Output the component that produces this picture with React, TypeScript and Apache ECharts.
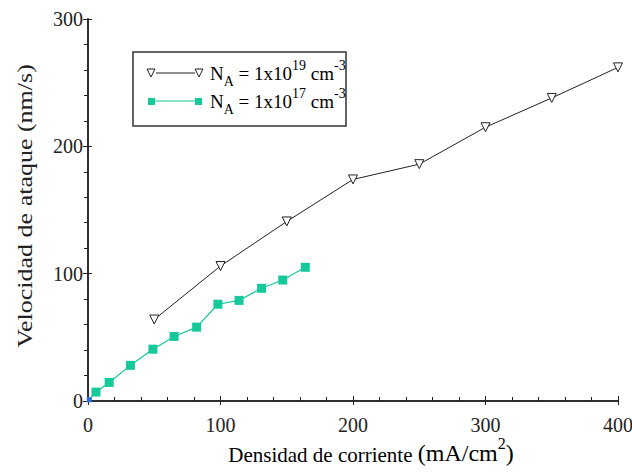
import React, { useEffect, useRef } from "react";
import * as echarts from "echarts";

const xTicks = [0, 100, 200, 300, 400];
const yTicks = [0, 100, 200, 300];

const highDopingX = [50, 100, 150, 200, 250, 300, 350, 400];
const highDopingY = [64, 106, 141, 174, 186, 215, 238, 262];

const lowDopingX = [1, 6, 16, 32, 49, 65, 82, 98, 114, 131, 147, 164];
const lowDopingY = [1, 7, 14.6, 28, 40.7, 50.7, 58, 76, 79, 88.5, 95, 105];

const legendLabels = [
  "{t|N}{sub|A}{t| = 1x10}{sup|19}{t| cm}{sup|-3}",
  "{t|N}{sub|A}{t| = 1x10}{sup|17}{t| cm}{sup|-3}",
];
const xTitle = "{t|Densidad de corriente }{p|(mA/cm}{s|2}{p|)}";
const yTitle = "Velocidad de ataque (nm/s)";

const TEAL = "#16c99a";
const FONT = "'Liberation Serif', 'Times New Roman', serif";

export default function App() {
  const ref = useRef<HTMLDivElement>(null);
  useEffect(() => {
    if (!ref.current) return;
    const chart = echarts.init(ref.current, undefined, { renderer: "svg" });
    const axisLine = { show: true, lineStyle: { color: "#222", width: 1.5 } };
    const richText = {
      t: { fontFamily: FONT, fontSize: 19, color: "#111", lineHeight: 30, verticalAlign: "middle" },
      sub: { fontFamily: FONT, fontSize: 14, color: "#111", lineHeight: 13, verticalAlign: "bottom" },
      sup: { fontFamily: FONT, fontSize: 14, color: "#111", lineHeight: 13, verticalAlign: "top" },
    };
    const tri = "path://M0,0 L10,0 L5,10 Z";
    chart.setOption({
      animation: false,
      backgroundColor: "#fff",
      grid: { left: 88, right: 14, top: 19, bottom: 71, containLabel: false, outerBoundsMode: "none" },
      xAxis: [
        {
          type: "value", min: 0, max: 400, interval: 100, position: "bottom",
          axisLine,
          axisTick: { show: true, inside: true, length: 5, lineStyle: { color: "#222" } },
          minorTick: { show: true, splitNumber: 5, length: 4, lineStyle: { color: "#222" } },
          splitLine: { show: false },
          axisLabel: {
            fontFamily: FONT, fontSize: 20, color: "#222", margin: 14,
            formatter: (v: number) => (xTicks.includes(v) ? String(v) : ""),
          },
        },
        {
          type: "value", min: 0, max: 400, interval: 100, position: "top",
          axisLine,
          axisTick: { show: true, inside: true, length: 4, lineStyle: { color: "#222" } },
          axisLabel: { show: false },
          splitLine: { show: false },
        },
      ],
      yAxis: [
        {
          type: "value", min: 0, max: 300, interval: 100, position: "left",
          axisLine,
          axisTick: { show: true, inside: true, length: 4, lineStyle: { color: "#222" } },
          splitLine: { show: false },
          axisLabel: {
            fontFamily: FONT, fontSize: 20, color: "#222", margin: 5,
            formatter: (v: number) => (yTicks.includes(v) ? String(v) : ""),
          },
        },
        {
          type: "value", min: 0, max: 300, interval: 100, position: "right",
          axisLine,
          axisTick: { show: true, inside: true, length: 5, lineStyle: { color: "#222" } },
          minorTick: { show: true, splitNumber: 5, length: 4, lineStyle: { color: "#222" } },
          axisLabel: { show: false },
          splitLine: { show: false },
        },
      ],
      series: [
        {
          type: "line",
          data: highDopingX.map((x, i) => [x, highDopingY[i]]),
          symbol: tri,
          symbolSize: [9, 9],
          itemStyle: { color: "#fff", borderColor: "#222", borderWidth: 1 },
          lineStyle: { color: "#222", width: 1 },
          z: 3,
        },
        {
          type: "line",
          data: lowDopingX.map((x, i) =>
            i === 0
              ? { value: [x, lowDopingY[i]], itemStyle: { color: "#2a6fd6" }, symbolSize: 5 }
              : [x, lowDopingY[i]]
          ),
          symbol: "rect",
          symbolSize: 9,
          itemStyle: { color: TEAL },
          lineStyle: { color: TEAL, width: 1.2 },
          z: 2,
        },
      ],
      graphic: [
        {
          type: "text", x: 371, y: 450, z: 11,
          style: {
            text: xTitle, align: "center", verticalAlign: "middle", fontFamily: FONT,
            rich: {
              t: { fontFamily: FONT, fontSize: 21, color: "#222", lineHeight: 30, verticalAlign: "bottom" },
              p: { fontFamily: FONT, fontSize: 24, color: "#222", lineHeight: 30, verticalAlign: "bottom" },
              s: { fontFamily: FONT, fontSize: 16, color: "#222", lineHeight: 16, verticalAlign: "top" },
            },
          },
        },
        {
          type: "text", x: 25, y: 206, rotation: Math.PI / 2, scaleX: 1.3, z: 11,
          style: {
            text: yTitle, align: "center", verticalAlign: "middle",
            fontFamily: FONT, fontSize: 20, fill: "#222",
          },
        },
        {
          type: "rect",
          shape: { x: 133, y: 52, width: 213, height: 74 },
          style: { fill: "#fff", stroke: "#333", lineWidth: 1.5 },
          z: 10,
        },
        { type: "line", shape: { x1: 156, y1: 73, x2: 195, y2: 73 }, style: { stroke: "#222", lineWidth: 1 }, z: 11 },
        { type: "polygon", shape: { points: [[147, 69], [155, 69], [151, 77]] }, style: { fill: "#fff", stroke: "#222", lineWidth: 1 }, z: 11 },
        { type: "polygon", shape: { points: [[195, 69], [203, 69], [199, 77]] }, style: { fill: "#fff", stroke: "#222", lineWidth: 1 }, z: 11 },
        { type: "line", shape: { x1: 155, y1: 101, x2: 196, y2: 101 }, style: { stroke: TEAL, lineWidth: 1.2 }, z: 11 },
        { type: "rect", shape: { x: 148, y: 98, width: 7, height: 7 }, style: { fill: TEAL }, z: 11 },
        { type: "rect", shape: { x: 195, y: 98, width: 7, height: 7 }, style: { fill: TEAL }, z: 11 },
        {
          type: "text", x: 210, y: 73, z: 11,
          style: { text: legendLabels[0], rich: richText, verticalAlign: "middle", fontFamily: FONT },
        },
        {
          type: "text", x: 210, y: 101, z: 11,
          style: { text: legendLabels[1], rich: richText, verticalAlign: "middle", fontFamily: FONT },
        },
      ],
    });
    return () => chart.dispose();
  }, []);
  return (
    <div
      ref={ref}
      style={{ position: "fixed", left: 0, top: 0, width: 632, height: 472 }}
    />
  );
}
